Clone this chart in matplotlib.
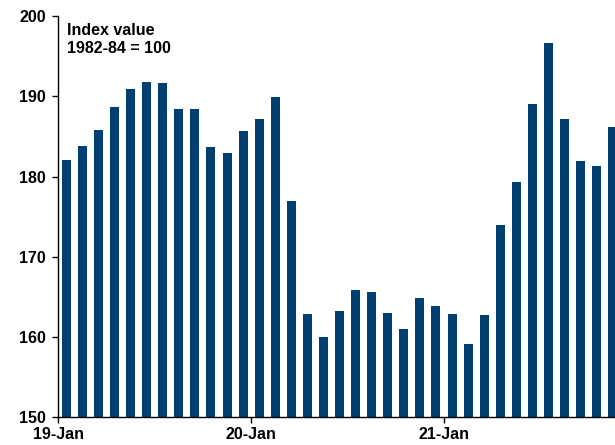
import matplotlib
matplotlib.use("Agg")
import matplotlib.pyplot as plt
import numpy as np

# monthly index values, Jan 2019 onward
months = ["Jan-19", "Feb-19", "Mar-19", "Apr-19", "May-19", "Jun-19", "Jul-19", "Aug-19",
          "Sep-19", "Oct-19", "Nov-19", "Dec-19",
          "Jan-20", "Feb-20", "Mar-20", "Apr-20", "May-20", "Jun-20", "Jul-20", "Aug-20",
          "Sep-20", "Oct-20", "Nov-20", "Dec-20",
          "Jan-21", "Feb-21", "Mar-21", "Apr-21", "May-21", "Jun-21", "Jul-21", "Aug-21",
          "Sep-21", "Oct-21", "Nov-21"]
index_values = [182.1, 183.8, 185.8, 188.7, 190.85, 191.77, 191.65, 188.4,
                188.4, 183.7, 182.95, 185.66,
                187.2, 189.9, 176.93, 162.84, 160.05, 163.3, 165.83, 165.62,
                162.97, 160.97, 164.88, 163.92,
                162.88, 159.1, 162.72, 173.94, 179.38, 189.03, 196.67, 187.23,
                181.92, 181.37, 186.2]
tick_labels = ["19-Jan", "20-Jan", "21-Jan"]

plt.rcParams["font.family"] = ["Liberation Sans", "DejaVu Sans"]
plt.rcParams["font.weight"] = "bold"

fig = plt.figure(figsize=(6.15, 4.45), dpi=100)
ax = fig.add_axes([0.0948, 0.0622, 0.9052, 0.9018])

x = np.arange(len(index_values)) + 0.5
ax.bar(x, index_values, width=0.56, color="#003f70", zorder=2)

ax.set_ylim(150, 200)
ax.set_yticks([150, 160, 170, 180, 190, 200])
ax.set_xlim(0, 34.64)
ax.set_xticks([0, 12, 24])
ax.set_xticklabels(tick_labels)

for side in ["top", "right"]:
    ax.spines[side].set_visible(False)
for side in ["left", "bottom"]:
    ax.spines[side].set_color("black")
    ax.spines[side].set_linewidth(1.0)

ax.tick_params(axis="both", labelsize=11.5, length=4, width=1.0, color="black")
ax.tick_params(axis="y", pad=5)
ax.tick_params(axis="x", pad=3)

ax.text(0.016, 0.982, "Index value\n1982-84 = 100", transform=ax.transAxes,
        ha="left", va="top", fontsize=11.5, fontweight="bold", linespacing=1.25)

fig.savefig("out.png", dpi=100)
